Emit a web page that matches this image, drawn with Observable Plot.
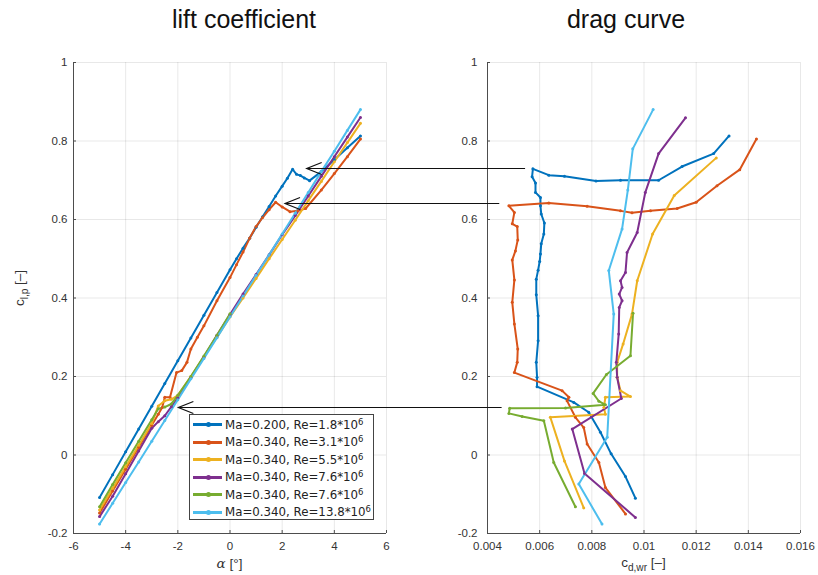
<!DOCTYPE html>
<html><head><meta charset="utf-8">
<script src="https://cdn.jsdelivr.net/npm/d3@7"></script>
<script src="https://cdn.jsdelivr.net/npm/@observablehq/plot@0.6"></script>
<style>
body{margin:0;background:#fff;}
#wrap{position:relative;width:818px;height:575px;overflow:hidden;font-family:"Liberation Sans",Arial,sans-serif;background:#fff;}
.title{position:absolute;top:5px;font-size:25px;color:#111;transform:translateX(-50%);white-space:nowrap;}
.axlabel{position:absolute;font-size:13.5px;color:#333;white-space:nowrap;transform:translate(-50%,-50%);}
.axlabel sub{font-size:0.75em;vertical-align:-0.3em;}
#legend{position:absolute;left:189px;top:414px;width:185px;height:106px;border:1px solid #444;background:#fff;padding-top:1px;box-sizing:border-box;}
.lrow{height:17.5px;display:flex;align-items:center;font-family:"DejaVu Sans",sans-serif;font-size:11.8px;color:#222;white-space:nowrap;}
.lrow .txt sup{font-size:0.72em;vertical-align:0.45em;line-height:0;}
.swatch{position:relative;width:29px;height:3px;margin-left:3px;margin-right:3px;flex:none;}
.swatch i{position:absolute;left:12.5px;top:-1px;width:5px;height:5px;border-radius:50%;}
.plotbox{position:absolute;top:40px;}
#overlay{position:absolute;left:0;top:0;pointer-events:none;}
</style></head><body>
<div id="wrap">
  <div class="title" style="left:244px">lift coefficient</div>
  <div class="title" style="left:626px">drag curve</div>
</div>
<script>
// ---------- data ----------
const seriesMa = ["0.200","0.340","0.340","0.340","0.340","0.340"];
const seriesRe = ["1.8","3.1","5.5","7.6","7.6","13.8"];
const seriesColors = ["#0072BD","#D95319","#EDB120","#7E2F8E","#77AC30","#4DBEEE"];

const alphaTicks = [-6,-4,-2,0,2,4,6];
const cdTicks = [0.004,0.006,0.008,0.010,0.012,0.014,0.016];
const clTicks = [-0.2,0,0.2,0.4,0.6,0.8,1];

// lift coefficient curves: alpha [deg], c_l
const alpha1 = [-5,-4.5,-4,-3.5,-3,-2.5,-2,-1.5,-1,-0.5,0,0.25,0.5,0.75,1,1.25,1.5,1.75,2,2.2,2.4,2.55,2.7,2.85,3.05,3.5,4,4.5,5];
const cl1    = [-0.108,-0.05,0.008,0.066,0.124,0.182,0.24,0.298,0.356,0.414,0.472,0.5,0.527,0.552,0.58,0.607,0.633,0.66,0.685,0.705,0.728,0.715,0.712,0.706,0.699,0.722,0.752,0.783,0.813];
const alpha2 = [-5,-4.5,-4,-3.5,-3,-2.75,-2.6,-2.5,-2.3,-2.05,-1.85,-1.65,-1.5,-1.25,-1,-0.5,0,0.25,0.5,0.75,1,1.25,1.5,1.75,2,2.3,2.6,2.9,3.5,4,4.5,5];
const cl2    = [-0.148,-0.092,-0.036,0.02,0.076,0.104,0.121,0.147,0.147,0.21,0.215,0.236,0.27,0.3,0.329,0.393,0.452,0.485,0.517,0.552,0.582,0.605,0.625,0.644,0.632,0.62,0.622,0.628,0.675,0.717,0.76,0.805];
const alpha3 = [-5,-4.5,-4,-3.5,-3,-2.75,-2.5,-2.25,-2,-1.5,-1,-0.5,0,0.5,1,1.5,2,2.5,3,3.5,4,4.5,5];
const cl3    = [-0.14,-0.085,-0.03,0.025,0.08,0.125,0.138,0.142,0.152,0.2,0.25,0.3,0.352,0.4,0.45,0.5,0.549,0.598,0.648,0.697,0.747,0.796,0.845];
const alpha4 = [-5,-4.5,-4,-3.5,-3,-2.75,-2.5,-2.25,-2,-1.5,-1,-0.5,0,0.5,1,1.5,2,2.5,3,3.5,4,4.5,5];
const cl4    = [-0.157,-0.105,-0.048,0.01,0.068,0.085,0.1,0.123,0.145,0.197,0.25,0.305,0.358,0.41,0.46,0.51,0.561,0.61,0.66,0.71,0.76,0.81,0.86];
const alpha5 = [-5,-4.5,-4,-3.5,-3,-2.75,-2.5,-2.25,-2,-1.5,-1,-0.5,0];
const cl5    = [-0.132,-0.075,-0.02,0.035,0.09,0.118,0.122,0.13,0.152,0.2,0.252,0.305,0.36];
const alpha6 = [-5,-4.5,-4,-3.5,-3,-2.5,-2,-1.5,-1,-0.5,0,0.5,1,1.5,2,2.5,3,3.5,4,4.5,5];
const cl6    = [-0.176,-0.123,-0.07,-0.018,0.035,0.088,0.141,0.194,0.246,0.299,0.352,0.405,0.458,0.51,0.563,0.616,0.669,0.722,0.774,0.827,0.88];

// drag curves: c_d,wr and c_l
const cd1  = [0.00967,0.00929,0.00874,0.00833,0.00788,0.00731,0.0059,0.0059,0.00587,0.00594,0.00594,0.00587,0.00587,0.00594,0.006,0.00603,0.00606,0.00616,0.00618,0.00606,0.00603,0.00603,0.00584,0.00584,0.00571,0.00574,0.00635,0.00695,0.00816,0.0091,0.01056,0.01146,0.01267,0.01326];
const dcl1 = [-0.11,-0.055,0.003,0.058,0.109,0.134,0.174,0.198,0.236,0.291,0.355,0.408,0.448,0.471,0.493,0.512,0.538,0.563,0.591,0.614,0.635,0.656,0.669,0.693,0.709,0.729,0.713,0.71,0.698,0.70,0.70,0.735,0.768,0.813];
const cd2  = [0.00929,0.00852,0.00827,0.00782,0.00769,0.00737,0.00705,0.00712,0.00686,0.00503,0.00514,0.00516,0.00503,0.00495,0.00503,0.00495,0.00507,0.00516,0.00514,0.00495,0.00503,0.00482,0.00635,0.00782,0.0091,0.00954,0.01025,0.01127,0.012,0.0128,0.01367,0.01431];
const dcl2 = [-0.15,-0.083,-0.019,0.028,0.07,0.096,0.138,0.147,0.164,0.21,0.236,0.27,0.334,0.389,0.446,0.497,0.52,0.548,0.582,0.589,0.618,0.635,0.642,0.634,0.622,0.617,0.622,0.628,0.644,0.686,0.727,0.805];
const cd3  = [0.00769,0.00695,0.00641,0.00852,0.00846,0.00852,0.00948,0.0091,0.00897,0.00897,0.0092,0.00954,0.00974,0.01033,0.01116,0.01277];
const dcl3 = [-0.135,-0.015,0.096,0.104,0.121,0.147,0.149,0.164,0.198,0.236,0.283,0.359,0.444,0.563,0.661,0.757];
const cd4  = [0.00967,0.00772,0.00725,0.00913,0.00897,0.00894,0.00903,0.00905,0.00916,0.00905,0.00916,0.0091,0.00929,0.00935,0.00974,0.01005,0.01056,0.01159];
const dcl4 = [-0.159,-0.047,0.066,0.144,0.198,0.236,0.308,0.376,0.393,0.41,0.427,0.444,0.465,0.516,0.567,0.669,0.768,0.859];
const cd5  = [0.00737,0.00654,0.00616,0.00533,0.00482,0.00485,0.00699,0.00852,0.00827,0.00805,0.00856,0.00948,0.00958];
const dcl5 = [-0.132,-0.019,0.087,0.098,0.106,0.119,0.12,0.128,0.137,0.157,0.205,0.253,0.361];
const cd6  = [0.00839,0.0075,0.00859,0.00884,0.00865,0.00916,0.00938,0.00957,0.01035];
const dcl6 = [-0.176,-0.074,0.045,0.359,0.47,0.576,0.675,0.78,0.88];

// annotation arrows (c_l level, alpha of head, c_d of tail)
const arrowCl    = [0.730, 0.640, 0.120];
const arrowAlpha = [2.96, 2.13, -1.96];
const arrowCd    = [0.00546, 0.00447, 0.00456];

// ---------- build tables ----------
const names = seriesRe.map((r,i) => `Ma=${seriesMa[i]}, Re=${r}*10^6 #${i}`);
const liftX = [alpha1,alpha2,alpha3,alpha4,alpha5,alpha6];
const liftY = [cl1,cl2,cl3,cl4,cl5,cl6];
const dragX = [cd1,cd2,cd3,cd4,cd5,cd6];
const dragY = [dcl1,dcl2,dcl3,dcl4,dcl5,dcl6];
const lift = liftX.flatMap((xs,i) => xs.map((x,j) => ({s:names[i], x, y:liftY[i][j]})));
const drag = dragX.flatMap((xs,i) => xs.map((x,j) => ({s:names[i], x, y:dragY[i][j]})));

const fmt = d => String(+d.toFixed(4));
const axisCol = "#4d4d4d";

function panel(data, xTicks, opts) {
  return Plot.plot({
    width: 409, height: 535,
    marginLeft: opts.ml, marginRight: opts.mr, marginTop: 22, marginBottom: 42,
    x: {domain: [xTicks[0], xTicks[xTicks.length-1]]},
    y: {domain: [clTicks[0], clTicks[clTicks.length-1]]},
    color: {domain: names, range: seriesColors},
    style: {fontFamily: "'Liberation Sans', Arial, sans-serif", fontSize: "11.5px", color: "#333", overflow: "visible", background: "transparent"},
    marks: [
      Plot.gridX(xTicks, {stroke: "#000", strokeOpacity: 0.09}),
      Plot.gridY(clTicks, {stroke: "#000", strokeOpacity: 0.09}),
      Plot.axisX(xTicks, {tickSize: -3, tickPadding: 11, tickFormat: fmt, label: null, stroke: axisCol, fill: "#333"}),
      Plot.axisY(clTicks, {tickSize: -3, tickPadding: opts.yp, tickFormat: fmt, label: null, stroke: axisCol, fill: "#333"}),
      Plot.ruleX([xTicks[0]], {stroke: axisCol}),
      Plot.ruleY([clTicks[0]], {stroke: axisCol}),
      Plot.line(data, {x: "x", y: "y", z: "s", stroke: "s", strokeWidth: 2, strokeLinejoin: "round"}),
      Plot.dot(data, {x: "x", y: "y", fill: "s", r: 1.5})
    ]
  });
}

const wrap = document.getElementById("wrap");
const left = panel(lift, alphaTicks, {ml: 73, mr: 23, yp: 9});
const right = panel(drag, cdTicks, {ml: 78, mr: 18, yp: 13});
left.classList.add("plotbox"); left.style.left = "0px";
right.classList.add("plotbox"); right.style.left = "409px";
wrap.appendChild(left); wrap.appendChild(right);

// axis labels
function addLabel(html, x, y, rot) {
  const d = document.createElement("div");
  d.className = "axlabel"; d.innerHTML = html;
  d.style.left = x + "px"; d.style.top = y + "px";
  if (rot) d.style.transform = "translate(-50%,-50%) rotate(-90deg)";
  wrap.appendChild(d);
}
const sxL = left.scale("x"), syL = left.scale("y"), sxR = right.scale("x");
const midL = (sxL.apply(alphaTicks[0]) + sxL.apply(alphaTicks[alphaTicks.length-1])) / 2;
const midR = 409 + (sxR.apply(cdTicks[0]) + sxR.apply(cdTicks[cdTicks.length-1])) / 2;
addLabel('<i style="font-family:\'DejaVu Serif\',serif">α</i> [°]', midL, 563);
addLabel('c<sub>d,wr</sub> [–]', midR, 564);
addLabel('c<sub>l,p</sub> [–]', 21, 288, true);

// legend
const lg = document.createElement("div"); lg.id = "legend";
names.forEach((n,i) => {
  const r = document.createElement("div"); r.className = "lrow";
  r.innerHTML = `<span class="swatch" style="background:${seriesColors[i]}"><i style="background:${seriesColors[i]}"></i></span><span class="txt">Ma=${seriesMa[i]}, Re=${seriesRe[i]}*10<sup>6</sup></span>`;
  lg.appendChild(r);
});
wrap.appendChild(lg);

// arrows across panels
const ov = d3.select(wrap).append("svg").attr("id","overlay").attr("width",818).attr("height",575);
arrowCl.forEach((c,i) => {
  const y = Math.round(syL.apply(c) + 40) + 0.5;
  const xh = sxL.apply(arrowAlpha[i]);
  const xt = 409 + sxR.apply(arrowCd[i]);
  const g = ov.append("g").attr("stroke","#111").attr("stroke-width",1.2).attr("fill","none");
  g.append("line").attr("x1",xt).attr("y1",y).attr("x2",xh).attr("y2",y);
  g.append("path").attr("d",`M${xh+15},${y-6}L${xh},${y}L${xh+15},${y+6}`);
});
</script>
</body></html>
